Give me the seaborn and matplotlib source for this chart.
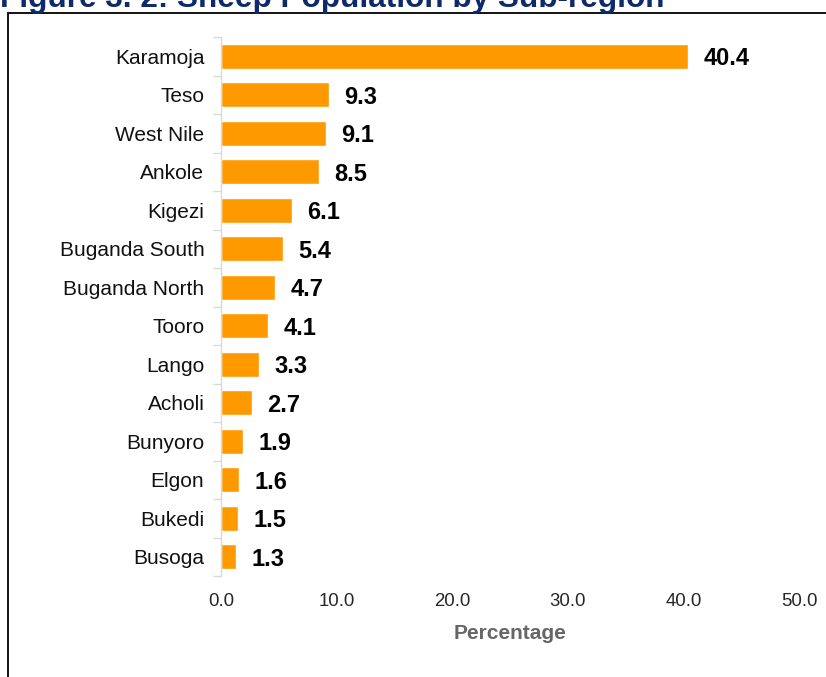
import numpy as np
import pandas as pd
import matplotlib
matplotlib.use("Agg")
import matplotlib.pyplot as plt
from matplotlib.patches import Rectangle
import seaborn as sns

regions = ["Karamoja", "Teso", "West Nile", "Ankole", "Kigezi", "Buganda South",
           "Buganda North", "Tooro", "Lango", "Acholi", "Bunyoro", "Elgon",
           "Bukedi", "Busoga"]
percentages = [40.4, 9.3, 9.1, 8.5, 6.1, 5.4, 4.7, 4.1, 3.3, 2.7, 1.9, 1.6, 1.5, 1.3]
x_ticks = [0, 10, 20, 30, 40, 50]
title = "Figure 3. 2: Sheep Population by Sub-region"
x_label = "Percentage"

sns.set_theme(style="white")
plt.rcParams["font.family"] = ["Liberation Sans", "DejaVu Sans"]

df = pd.DataFrame({"Region": regions, "Percentage": percentages})

fig = plt.figure(figsize=(8.26, 6.77), dpi=100)
ax = fig.add_axes([221 / 826, 1 - 576 / 677, 578 / 826, 539 / 677])

sns.barplot(data=df, x="Percentage", y="Region", orient="h", color="#FF9900",
            saturation=1, width=0.66, ax=ax)

for c in ax.containers:
    labels = ax.bar_label(c, fmt="%.1f", padding=11, fontsize=17,
                          fontweight="bold", color="black")
    for t in labels:
        t.set_va("center_baseline")

ax.set_xlim(0, 50)
ax.set_xticks(x_ticks)
ax.set_xticklabels([f"{v:.1f}" for v in x_ticks], fontsize=13.4)
ax.set_ylim(len(regions) - 0.5, -0.5)
ax.set_ylabel("")
ax.set_xlabel(x_label, fontsize=15, fontweight="bold", color="#666666",
              labelpad=10)
ax.tick_params(axis="x", length=0, pad=12)
ax.tick_params(axis="y", which="major", length=0, pad=12, labelsize=15,
               labelcolor="#111111")
ax.set_yticks(np.arange(-0.5, len(regions), 1), minor=True)
ax.tick_params(axis="y", which="minor", left=True, length=6, width=1,
               color="#d9d9d9")
for s in ["top", "right", "bottom"]:
    ax.spines[s].set_visible(False)
ax.spines["left"].set_color("#d9d9d9")
ax.spines["left"].set_linewidth(1)
ax.grid(False)

# outer border box (partly cropped)
fig.patches.append(Rectangle((8 / 826, -0.1), 1.2, 1.1 - 13 / 677,
                             transform=fig.transFigure, fill=False,
                             edgecolor="black", linewidth=1.3))
fig.text(0 / 826, 1 - 7.5 / 677, title, fontsize=22.7, fontweight="bold",
         color="#0F2A6B", ha="left", va="baseline")

fig.savefig("out.png", dpi=100)
